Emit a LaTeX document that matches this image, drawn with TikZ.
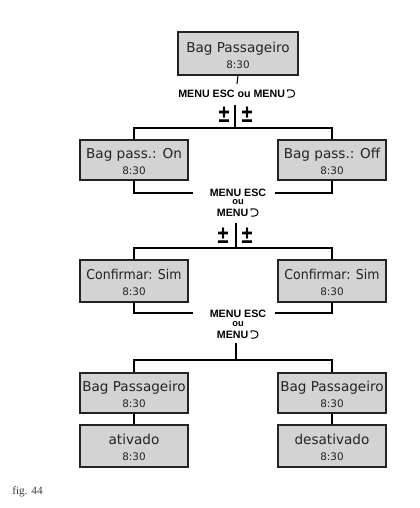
\documentclass[tikz,border=0pt]{standalone}
\usepackage{fontspec}
\setmainfont{Liberation Sans}
\newfontfamily\dispfont{DejaVu Sans}
\newfontfamily\figfont{Liberation Serif}
\usetikzlibrary{calc}
\definecolor{boxgray}{RGB}{211,211,211}
\definecolor{boxline}{RGB}{35,35,35}
\definecolor{figgray}{RGB}{60,60,60}
\tikzset{
  dbox/.style={draw=boxline, fill=boxgray, line width=0.9pt, inner sep=0pt,
    minimum width=81pt, minimum height=30pt},
  ttl/.style={font=\dispfont\fontsize{10.2}{12}\selectfont, text=boxline, inner sep=0pt, anchor=base},
  tim/.style={font=\dispfont\fontsize{7.8}{9}\selectfont, text=boxline, inner sep=0pt, anchor=base},
  menu/.style={font=\bfseries\fontsize{8}{9}\selectfont, inner sep=0pt, anchor=base},
  menusm/.style={font=\bfseries\fontsize{7}{8}\selectfont, inner sep=0pt, anchor=base},
  pm/.style={font=\bfseries\fontsize{15}{15}\selectfont, inner sep=0pt, anchor=center},
  conn/.style={line width=0.8pt, black},
  retsym/.pic={\draw[line width=0.75pt] (0,4.0pt) -- (0,5.3pt) -- (2.6pt,5.3pt)
      arc[start angle=90, end angle=-90, radius=2.65pt] -- (0,0);}
}
\newcommand\dispbox[4]{%
  \node[dbox,#4] (#1) at (#2) {};
  \node[ttl] (#1t) at ($(#1.center)+(0,-1.5)$) {#3};
  \node[tim] (#1m) at ($(#1.center)+(0,14.5)$) {8:30};
}
\begin{document}
\begin{tikzpicture}[x=0.75pt, y=-0.75pt]
\useasboundingbox (0,0) rectangle (420,508);
% boxes
\dispbox{top}{238,53.5}{Bag Passageiro}{minimum width=90pt, minimum height=32.25pt}
\dispbox{L2}{134,160}{Bag pass.: On}{}
\dispbox{R2}{332,160}{Bag pass.: Off}{}
\dispbox{L3}{134,281}{\scalebox{0.92}[1]{Confirmar: Sim}}{minimum height=31.5pt}
\dispbox{R3}{332,281}{\scalebox{0.92}[1]{Confirmar: Sim}}{minimum height=31.5pt}
\dispbox{L4}{134,393}{Bag Passageiro}{}
\dispbox{R4}{332,393}{Bag Passageiro}{}
\dispbox{L5}{134,446}{ativado}{minimum height=31.5pt}
\dispbox{R5}{332,446}{desativado}{minimum height=31.5pt}

% level 1 keys
\node[menu] (t1) at (237,97) {MENU ESC ou MENU\kern8pt};
\pic at ($(t1.base east)+(-6.2pt,0)$) {retsym};
\node[pm] (p1a) at (224,115) {\scalebox{1}[1.25]{±}};
\node[pm] (p1b) at (247,115) {\scalebox{1}[1.25]{±}};
\coordinate (d1t) at (235,105);
\coordinate (d1b) at (235,128);
\draw[conn] (top.south) -- ([yshift=4pt]t1.north);
\draw[conn] (d1t) -- (d1b);
\draw[conn] (L2.north) |- (d1b) -| (R2.north);

% level 2 keys
\node[menu] (m2a) at (238,196) {MENU ESC};
\node[menusm] (m2b) at (238,204.5) {ou};
\node[menu] (m2c) at (238,216) {MENU\kern8pt};
\pic at ($(m2c.base east)+(-6.2pt,0)$) {retsym};
\coordinate (g2l) at (193,193);
\coordinate (g2r) at (275,193);
\draw[conn] (L2.south) |- (g2l);
\draw[conn] (R2.south) |- (g2r);
\node[pm] (p2a) at (223,236) {\scalebox{1}[1.25]{±}};
\node[pm] (p2b) at (247,236) {\scalebox{1}[1.25]{±}};
\coordinate (d2t) at (236,223);
\coordinate (d2b) at (236,248);
\draw[conn] (d2t) -- (d2b);
\draw[conn] (L3.north) |- (d2b) -| (R3.north);

% level 3 keys
\node[menu] (m3a) at (238,317) {MENU ESC};
\node[menusm] (m3b) at (238,326) {ou};
\node[menu] (m3c) at (238,338) {MENU\kern8pt};
\pic at ($(m3c.base east)+(-6.2pt,0)$) {retsym};
\coordinate (g3l) at (193,313);
\coordinate (g3r) at (275,313);
\draw[conn] (L3.south) |- (g3l);
\draw[conn] (R3.south) |- (g3r);
\coordinate (j3) at (236,343);
\coordinate (h3) at (236,360);
\draw[conn] (j3) -- (h3);
\draw[conn] (L4.north) |- (h3) -| (R4.north);

% level 4 to 5
\draw[conn] (L4.south) -- (L5.north);
\draw[conn] (R4.south) -- (R5.north);

% caption
\node[font=\figfont\fontsize{8.5}{10}\selectfont, text=figgray, inner sep=0pt, anchor=base west] (fig) at (12,494) {fig. 44};
\end{tikzpicture}
\end{document}
